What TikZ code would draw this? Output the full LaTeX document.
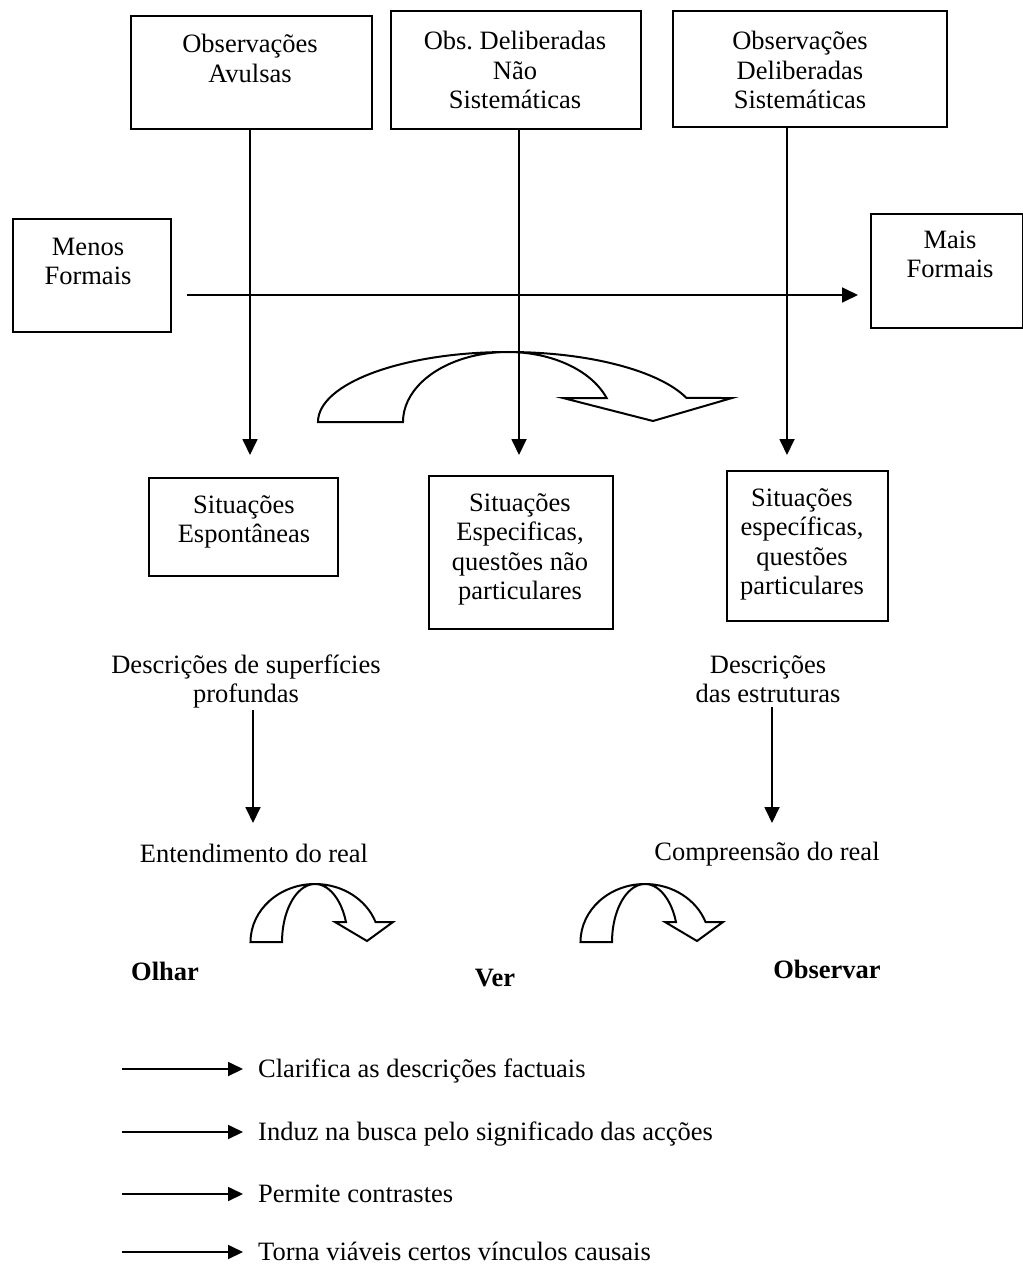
\documentclass[tikz,border=0pt]{standalone}
\usepackage{fontspec}
\setmainfont{Liberation Serif}
\usetikzlibrary{arrows.meta}
\frenchspacing

\begin{document}
\begin{tikzpicture}[x=1pt,y=-1pt,
  box/.style={draw, line width=1.8pt, inner sep=0pt, anchor=north west},
  txt/.style={font=\fontsize{26.5}{29.5}\selectfont, align=center, inner sep=0pt, anchor=base},
  bold/.style={txt, font=\fontsize{26.5}{29.5}\selectfont\bfseries},
  leg/.style={txt, anchor=base west},
  arr/.style={line width=1.8pt, -{Triangle[length=16pt,width=15pt]}},
  legarr/.style={line width=1.8pt, -{Triangle[length=15pt,width=14pt]}},
  curv/.style={line width=2pt, line join=miter}
]
\useasboundingbox (0,0) rectangle (1022,1265);

% top row of observation types (text nodes are placed by their last baseline)
\node[box, minimum width=241pt, minimum height=113pt] (b1) at (130,15) {};
\node[box, minimum width=250pt, minimum height=118pt] (b2) at (390,10) {};
\node[box, minimum width=274pt, minimum height=116pt] (b3) at (672,10) {};
\node[txt] (t1) at (250,82.5) {Observações\\Avulsas};
\node[txt] (t2) at (515,109) {Obs.\ Deliberadas\\Não\\Sistemáticas};
\node[txt] (t3) at (800,109) {Observações\\Deliberadas\\Sistemáticas};

% formality scale
\node[box, minimum width=158pt, minimum height=113pt] (menos) at (12,218) {};
\node[box, minimum width=152pt, minimum height=114pt] (mais) at (870,213) {};
\node[txt] (tmenos) at (88,284.5) {Menos\\Formais};
\node[txt] (tmais) at (950,277.5) {Mais\\Formais};
\coordinate (h1) at (187,295);
\coordinate (h2) at (858,295);
\draw[arr] (h1) -- (h2);

% situations
\node[box, minimum width=189pt, minimum height=98pt] (s1) at (148,477) {};
\node[box, minimum width=184pt, minimum height=153pt] (s2) at (428,475) {};
\node[box, minimum width=161pt, minimum height=150pt] (s3) at (726,470) {};
\node[txt] (ts1) at (244,542.5) {Situações\\Espontâneas};
\node[txt] (ts2) at (520,599.5) {Situações\\Especificas,\\questões não\\particulares};
\node[txt] (ts3) at (802,594.5) {Situações\\específicas,\\questões\\particulares};

% vertical connectors
\coordinate (a1) at (250,455);
\coordinate (a2) at (519,455);
\coordinate (a3) at (787,455);
\draw[arr] (a1 |- b1.south) -- (a1);
\draw[arr] (a2 |- b2.south) -- (a2);
\draw[arr] (a3 |- b3.south) -- (a3);

% big curved arrow
\draw[curv] (318,422) arc[start angle=180, end angle=339.94, x radius=190, y radius=70]
  -- (732,398) -- (653,421) -- (563,398) -- (606.6,398)
  arc[start angle=339.94, end angle=180, x radius=105, y radius=70] -- cycle;

% descriptions and understanding
\node[txt] (d1) at (246,702.5) {Descrições de superfícies\\profundas};
\node[txt] (d2) at (768,702.5) {Descrições\\das estruturas};
\coordinate (c1a) at (253,710);
\coordinate (c1b) at (253,823);
\coordinate (c2a) at (772,707);
\coordinate (c2b) at (772,823);
\draw[arr] (c1a) -- (c1b);
\draw[arr] (c2a) -- (c2b);
\node[txt] (e1) at (254,862) {Entendimento do real};
\node[txt] (e2) at (767,860) {Compreensão do real};

% small curved arrows
\draw[curv] (250.5,942) arc[start angle=180, end angle=339.83, x radius=64.5, y radius=58]
  -- (393,922) -- (367,941) -- (335,922) -- (346,922)
  arc[start angle=339.83, end angle=180, x radius=33, y radius=58] -- cycle;
\draw[curv] (580.5,942) arc[start angle=180, end angle=339.83, x radius=64.5, y radius=58]
  -- (723,922) -- (697,941) -- (665,922) -- (676,922)
  arc[start angle=339.83, end angle=180, x radius=33, y radius=58] -- cycle;

\node[bold] (o1) at (165,980) {Olhar};
\node[bold] (o2) at (495,986) {Ver};
\node[bold] (o3) at (827,978) {Observar};

% legend
\coordinate (la1) at (122,1069);
\coordinate (la2) at (122,1132);
\coordinate (la3) at (122,1194);
\coordinate (la4) at (122,1252);
\coordinate (lb1) at (243,1069);
\coordinate (lb2) at (243,1132);
\coordinate (lb3) at (243,1194);
\coordinate (lb4) at (243,1252);
\draw[legarr] (la1) -- (lb1);
\draw[legarr] (la2) -- (lb2);
\draw[legarr] (la3) -- (lb3);
\draw[legarr] (la4) -- (lb4);
\node[leg] (g1) at (258,1077) {Clarifica as descrições factuais};
\node[leg] (g2) at (258,1140) {Induz na busca pelo significado das acções};
\node[leg] (g3) at (258,1202) {Permite contrastes};
\node[leg] (g4) at (258,1260) {Torna viáveis certos vínculos causais};
\end{tikzpicture}
\end{document}
